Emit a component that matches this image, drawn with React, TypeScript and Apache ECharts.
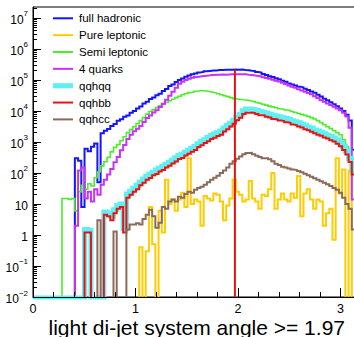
import React, { useEffect, useRef } from "react";
import * as echarts from "echarts";

// ---------------- data (100 bins over [0, pi]) ----------------
const N_BINS = 100;
const X_MIN = 0;
const X_MAX = Math.PI;
const Y_MIN = 0.01;
const Y_MAX = 2.26e7;
const Y_EMPTY = 0.0093; // empty bins are drawn at the bottom of the frame

const SERIES_NAMES = ["full hadronic", "Pure leptonic", "Semi leptonic", "4 quarks", "qqhqq", "qqhbb", "qqhcc"];

const fullHadronic = [
  0, 0, 0, 0, 0, 0, 0, 0, 0, 0,
  0, 0, 0, 300, 250, 8, 600, 500, 700, 900,
  50, 1900, 2300, 2600, 3300, 3800, 4800, 5400, 6500, 7200,
  8800, 10000, 12000, 14000, 17500, 20000, 24500, 27000, 32000, 36000,
  44000, 51000, 64000, 72000, 86000, 100000, 111000, 126000, 139000, 152000,
  163000, 175000, 181000, 191000, 196000, 201000, 203000, 209000, 209000, 214000,
  215000, 213000, 217000, 215000, 216000, 210000, 206000, 199000, 194000, 181000,
  173000, 156000, 146000, 133000, 125000, 113000, 106000, 94000, 87000, 77000,
  72000, 67000, 61000, 58000, 52000, 47500, 42500, 38500, 33500, 29500,
  25000, 22000, 19000, 16500, 14300, 12100, 10000, 7600, 4900, 560,
];

const pureLeptonic = [
  0, 0, 0, 0, 0, 0, 0, 0, 0, 0,
  0, 0, 0, 0, 0, 0, 0, 0, 0, 0,
  0, 0, 0, 0, 0, 0, 0, 0, 0, 0,
  0, 0, 0, 0.4, 0, 0.3, 8, 0.5, 0, 6,
  1.2, 60, 10, 14, 6, 14, 23, 8, 300, 10,
  14, 12, 2, 18, 15, 13, 22, 20, 12, 3,
  9, 15, 60, 25, 20, 12, 14, 55, 15, 12,
  7, 20, 18, 30, 100, 7, 14, 22, 14, 12,
  22, 16, 80, 4, 22, 30, 14, 7, 14, 12,
  2, 5, 7, 0.7, 300, 22, 130, 0, 120, 0,
];

const semiLeptonic = [
  0, 0, 0, 0, 0, 0, 0, 0, 0, 15,
  15, 14, 15, 6, 25, 40, 30, 45, 38, 70,
  110, 170, 230, 320, 480, 670, 820, 1100, 1480, 2000,
  2500, 3100, 3900, 4900, 6100, 7900, 9600, 11000, 12800, 14800,
  16800, 19000, 21500, 24000, 27000, 30000, 33500, 36000, 39000, 41000,
  43500, 45000, 45000, 44000, 42000, 40000, 38000, 36000, 33500, 31000,
  29000, 27000, 25000, 24000, 23000, 22500, 22000, 21000, 20000, 18700,
  17700, 16500, 15500, 14400, 13600, 12700, 11800, 11300, 10700, 10200,
  9600, 8900, 8300, 7800, 7200, 6700, 6100, 5500, 4900, 4200,
  3600, 3100, 2700, 2300, 2000, 1720, 1180, 710, 360, 89,
];

const fourQuarks = [
  0, 0, 0, 0, 0, 0, 0, 0, 0, 0,
  0, 0, 0, 2, 120, 150, 15, 25, 12, 30,
  20, 42, 60, 90, 135, 220, 330, 540, 800, 1250,
  1700, 2200, 2650, 3250, 4400, 5900, 7200, 8900, 10500, 13500,
  17000, 23000, 31000, 42000, 56000, 76000, 88000, 99000, 110000, 118000,
  125000, 130000, 134000, 138000, 141000, 145000, 147000, 148000, 149000, 148000,
  151000, 152000, 153000, 152000, 152000, 152000, 148000, 145000, 140000, 135000,
  130000, 122000, 115000, 109000, 102000, 95000, 89000, 81000, 74000, 67000,
  61000, 56000, 50000, 46000, 42000, 38000, 34500, 30000, 26000, 22000,
  20000, 17500, 15500, 13700, 12000, 10500, 8800, 6600, 2900, 14,
];

const qqhqq = [
  0, 0, 0, 0, 0, 0, 0, 0, 0, 0,
  0, 0, 0, 0, 0, 0, 1.5, 1.4, 0, 0,
  0, 0, 5.5, 5, 4, 6.5, 9, 10, 1.6, 21,
  26, 32, 40, 51, 64, 78, 92, 106, 124, 143,
  166, 192, 224, 260, 310, 365, 405, 470, 545, 625,
  730, 885, 1030, 1180, 1390, 1610, 1800, 2000, 2250, 2800,
  3400, 4000, 5000, 6400, 7900, 10200, 11500, 11600, 11200, 10300,
  9600, 9200, 8600, 7900, 7300, 6900, 6500, 6100, 5700, 5300,
  4800, 4500, 4150, 3750, 3400, 3050, 2800, 2450, 2250, 2050,
  1850, 1660, 1500, 1340, 1160, 950, 730, 510, 300, 115,
];

const qqhbb = [
  0, 0, 0, 0, 0, 0, 0, 0, 0, 0,
  0, 0, 0, 0, 0, 0, 1.2, 1.2, 0, 0,
  0, 0, 4.5, 4, 3, 5, 7, 8, 1.2, 16,
  20, 25, 30, 40, 48, 61, 69, 84, 93, 112,
  126, 150, 170, 203, 236, 284, 306, 366, 414, 486,
  552, 690, 780, 925, 1050, 1260, 1360, 1570, 1710, 2180,
  2570, 3140, 3850, 5050, 6050, 7950, 8850, 8950, 8550, 7950,
  7350, 7150, 6550, 6150, 5550, 5350, 4950, 4750, 4350, 4150,
  3650, 3480, 3170, 2930, 2570, 2370, 2130, 1920, 1710, 1600,
  1400, 1290, 1140, 1040, 880, 735, 555, 392, 228, 89,
];

const qqhcc = [
  0, 0, 0, 0, 0, 0, 0, 0, 0, 0,
  0, 0, 0, 0, 0, 0, 0, 0, 0, 0,
  3, 0, 0, 0, 0, 1.3, 0, 0, 0, 1.5,
  2.2, 2.2, 2.4, 2.2, 3.3, 4.5, 6.5, 4, 1.7, 2.5,
  8, 7, 12, 14, 12, 17, 16, 21, 25, 23,
  29, 33, 36, 42, 50, 60, 70, 82, 100, 120,
  150, 200, 240, 290, 340, 400, 440, 450, 400, 360,
  330, 300, 300, 280, 240, 200, 180, 160, 150, 140,
  130, 125, 115, 105, 95, 85, 75, 68, 60, 54,
  48, 43, 38, 33, 29, 23, 16, 10, 7, 1.5,
];

const SERIES_VALUES = [fullHadronic, pureLeptonic, semiLeptonic, fourQuarks, qqhqq, qqhbb, qqhcc];

const X_TICK_LABELS = [0, 1, 2, 3];
const Y_TICK_LABELS = [1e-2, 1e-1, 1, 10, 1e2, 1e3, 1e4, 1e5, 1e6, 1e7];

const CUT_VALUE = 1.97;
const CUT_TOP = 2.15e5;
const X_TITLE = "light di-jet system angle >= 1.97";

// ---------------- styles ----------------
const FONT = "'Liberation Sans', Arial, Helvetica, sans-serif";
const COLORS = ["#1414ff", "#ffcc00", "#4ced2a", "#c832f5", "#5ef0f2", "#ee1111", "#8c6a58"];
const WIDTHS = [2, 2, 1.6, 2, 5, 2, 2];

function histPoints(vals: number[]): number[][] {
  const w = (X_MAX - X_MIN) / N_BINS;
  const pts = vals.map((v, i) => [X_MIN + i * w, v > 0 ? v : Y_EMPTY]);
  const last = vals[vals.length - 1];
  pts.push([X_MAX, last > 0 ? last : Y_EMPTY]);
  return pts;
}

function minorX(): number[] {
  const out: number[] = [];
  for (let k = 1; k * 0.2 < X_MAX; k++) {
    const v = Math.round(k * 2) / 10;
    if (Math.abs(v - Math.round(v)) > 1e-6) out.push(v);
  }
  return out;
}

function minorY(): number[] {
  const out: number[] = [];
  for (let e = -2; e <= 7; e++) {
    for (let m = 2; m <= 9; m++) {
      const v = m * Math.pow(10, e);
      if (v < Y_MAX) out.push(v);
    }
  }
  return out;
}

function yLabel(v: number): string {
  const e = Math.round(Math.log10(v));
  if (e === 0) return "{b|1}";
  if (e === 1) return "{b|10}";
  const ex = e < 0 ? "\u2212" + -e : String(e);
  return "{b|10}{s|" + ex + "}";
}

export default function App() {
  const ref = useRef<HTMLDivElement>(null);

  useEffect(() => {
    document.body.style.margin = "0";
    if (!ref.current) return;
    const chart = echarts.init(ref.current, undefined, { renderer: "svg" });

    const series: any[] = SERIES_VALUES.map((vals, k) => ({
      type: "line",
      name: SERIES_NAMES[k],
      data: histPoints(vals),
      step: "end",
      symbol: "none",
      clip: true,
      xAxisIndex: 0,
      yAxisIndex: 0,
      lineStyle: { color: COLORS[k], width: WIDTHS[k], join: "miter", cap: "butt" },
      itemStyle: { color: COLORS[k] },
      z: 2,
    }));
    series.push({
      type: "line",
      name: "cut",
      data: [
        [CUT_VALUE, Y_EMPTY],
        [CUT_VALUE, CUT_TOP],
      ],
      symbol: "none",
      clip: true,
      lineStyle: { color: "#ee1111", width: 2 },
      z: 3,
    });

    const legendGraphics: any[] = [];
    SERIES_NAMES.forEach((name, k) => {
      const y = 18.3 + k * 16.85;
      legendGraphics.push({
        type: "line",
        shape: { x1: 53, y1: y, x2: 73, y2: y },
        style: { stroke: COLORS[k], lineWidth: k === 4 ? 5 : 2 },
        z: 10,
      });
      legendGraphics.push({
        type: "text",
        x: 79,
        y: y,
        style: { text: name, font: "11.5px " + FONT, fill: "#000", verticalAlign: "middle", align: "left" },
        z: 10,
      });
    });

    const axisFont = { fontFamily: FONT, color: "#000" };

    chart.setOption({
      animation: false,
      textStyle: { fontFamily: FONT },
      grid: {
        left: 33,
        top: 7,
        width: 322,
        height: 290,
        show: true,
        borderColor: "#000",
        borderWidth: 1,
        containLabel: false,
        outerBoundsMode: "none",
      },
      xAxis: [
        {
          type: "value",
          min: X_MIN,
          max: X_MAX,
          position: "bottom",
          z: 5,
          axisLine: { lineStyle: { color: "#000", width: 1 } },
          axisTick: { inside: true, length: 9, customValues: X_TICK_LABELS, lineStyle: { color: "#000" } },
          axisLabel: { customValues: X_TICK_LABELS, fontSize: 12.5, lineHeight: 12, margin: 6, ...axisFont },
          splitLine: { show: false },
        },
        {
          type: "value",
          min: X_MIN,
          max: X_MAX,
          position: "bottom",
          z: 5,
          axisLine: { show: false },
          axisTick: { inside: true, length: 5, customValues: minorX(), lineStyle: { color: "#000" } },
          axisLabel: { show: false },
          splitLine: { show: false },
        },
      ],
      yAxis: [
        {
          type: "log",
          logBase: 10,
          min: Y_MIN,
          max: Y_MAX,
          position: "left",
          z: 5,
          axisLine: { lineStyle: { color: "#000", width: 1 } },
          axisTick: { inside: true, length: 8, customValues: Y_TICK_LABELS, lineStyle: { color: "#000" } },
          axisLabel: {
            customValues: Y_TICK_LABELS,
            margin: 5,
            formatter: yLabel,
            rich: {
              b: { fontSize: 12, fontFamily: FONT, color: "#000", lineHeight: 16, verticalAlign: "bottom" },
              s: { fontSize: 8, fontFamily: FONT, color: "#000", lineHeight: 11, verticalAlign: "top" },
            },
          },
          splitLine: { show: false },
        },
        {
          type: "log",
          logBase: 10,
          min: Y_MIN,
          max: Y_MAX,
          position: "left",
          z: 5,
          axisLine: { show: false },
          axisTick: { inside: true, length: 4, customValues: minorY(), lineStyle: { color: "#000" } },
          axisLabel: { show: false },
          splitLine: { show: false },
        },
      ],
      series,
      graphic: [
        ...legendGraphics,
        {
          type: "text",
          x: 345,
          y: 327,
          style: {
            text: X_TITLE,
            font: "21px " + FONT,
            lineHeight: 19,
            fill: "#000",
            align: "right",
            verticalAlign: "middle",
          },
          z: 10,
        },
      ],
    });

    return () => chart.dispose();
  }, []);

  return <div ref={ref} style={{ width: 354, height: 337 }} />;
}
